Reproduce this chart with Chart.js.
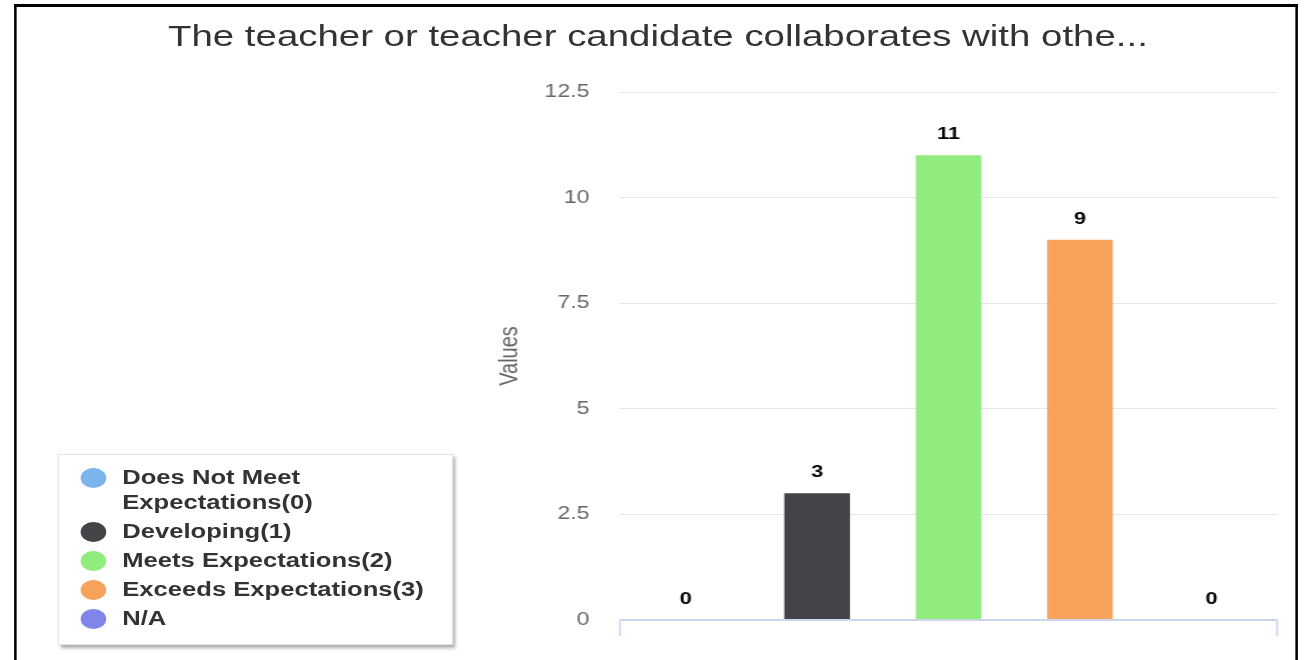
<!DOCTYPE html>
<html>
<head>
<meta charset="utf-8">
<script src="https://cdn.jsdelivr.net/npm/chart.js@4/dist/chart.umd.min.js"></script>
<style>
  html, body { margin:0; padding:0; background:#fff; overflow:hidden; }
  /* the source picture is stretched sideways, so lay out narrow and scale x */
  #wrap { position:relative; width:1021px; height:660px; transform:scaleX(1.28); transform-origin:0 0; }
  #frame { position:absolute; left:10.9px; top:4px; width:999px; height:700px;
           border:3px solid #000; border-left-width:2.35px; border-right-width:2.35px; border-bottom:none; }
  #chart { position:absolute; left:0; top:0; }
  #title { position:absolute; left:0; width:1028px; top:18px; text-align:center;
           font-family:"Liberation Sans", Arial, sans-serif; font-size:30px; line-height:36px; color:#333; white-space:nowrap; }
  #legend { position:absolute; left:44.5px; top:454px; width:309px; height:191px; box-sizing:border-box;
            padding-top:10px; background:#fff; border:1px solid #e4e4e4;
            box-shadow:2.5px 3px 3px rgba(0,0,0,0.35);
            font-family:"Liberation Sans", Arial, sans-serif; font-weight:bold;
            font-size:20px; color:#333; }
  .item { position:relative; padding-left:50px; width:250px; line-height:25px; margin-bottom:4px; }
  .dot { position:absolute; left:17.5px; top:2.5px; width:19.5px; height:20px; border-radius:50%; }
</style>
</head>
<body>
<div id="wrap">
  <div id="frame"></div>
  <div id="title"></div>
  <canvas id="chart" width="1021" height="660"></canvas>
  <div id="legend"></div>
</div>
<script>
// chart data
const categories = ['Does Not Meet Expectations(0)', 'Developing(1)', 'Meets Expectations(2)', 'Exceeds Expectations(3)', 'N/A'];
const values = [0, 3, 11, 9, 0];
const colors = ['#7cb5ec', '#434348', '#90ed7d', '#f7a35c', '#8085e9'];
const yTicks = [0, 2.5, 5, 7.5, 10, 12.5];
const chartTitle = 'The teacher or teacher candidate collaborates with othe...';
const axisTitle = 'Values';

document.getElementById('title').textContent = chartTitle;

// html legend, one row per category
const legendEl = document.getElementById('legend');
categories.forEach((c, i) => {
  const row = document.createElement('div');
  row.className = 'item';
  const dot = document.createElement('span');
  dot.className = 'dot';
  dot.style.background = colors[i];
  row.appendChild(dot);
  row.appendChild(document.createTextNode(c));
  legendEl.appendChild(row);
});

// value labels above bars
const barLabels = {
  id: 'barLabels',
  afterDatasetsDraw(chart) {
    const ctx = chart.ctx;
    const meta = chart.getDatasetMeta(0);
    ctx.save();
    ctx.font = 'bold 17px "Liberation Sans", Arial, sans-serif';
    ctx.fillStyle = '#000';
    ctx.textAlign = 'center';
    ctx.textBaseline = 'middle';
    meta.data.forEach((bar, i) => {
      ctx.fillText(String(values[i]), bar.x, bar.y - 21);
    });
    ctx.restore();
  }
};

// x axis line with end ticks
const xAxisLine = {
  id: 'xAxisLine',
  afterDraw(chart) {
    const { ctx, chartArea } = chart;
    ctx.save();
    ctx.strokeStyle = '#ccd6eb';
    ctx.lineWidth = 2;
    ctx.beginPath();
    ctx.moveTo(chartArea.left, chartArea.bottom);
    ctx.lineTo(chartArea.right, chartArea.bottom);
    ctx.stroke();
    ctx.lineWidth = 1.6;
    ctx.beginPath();
    ctx.moveTo(chartArea.left, chartArea.bottom);
    ctx.lineTo(chartArea.left, chartArea.bottom + 16);
    ctx.moveTo(chartArea.right, chartArea.bottom);
    ctx.lineTo(chartArea.right, chartArea.bottom + 16);
    ctx.stroke();
    ctx.restore();
  }
};

new Chart(document.getElementById('chart'), {
  type: 'bar',
  data: {
    labels: categories,
    datasets: [{ data: values, backgroundColor: colors, borderWidth: 0,
                 categoryPercentage: 1, barPercentage: 0.5 }]
  },
  options: {
    responsive: false,
    animation: false,
    layout: { padding: { left: 382, right: 23.3, top: 92, bottom: 40 } },
    plugins: {
      legend: { display: false },
      tooltip: { enabled: false },
      title: { display: false }
    },
    scales: {
      x: {
        ticks: { display: false },
        grid: { display: false, drawTicks: false },
        border: { display: false }
      },
      y: {
        min: 0, max: 12.5,
        afterBuildTicks(scale) { scale.ticks = yTicks.map(v => ({ value: v })); },
        afterFit(scale) { scale.width = 102.4; },
        ticks: { color: '#666', padding: 24,
                 font: { family: '"Liberation Sans", Arial, sans-serif', size: 18 } },
        grid: { color: '#e6e6e6', drawTicks: false },
        border: { display: false },
        title: { display: true, text: axisTitle, color: '#666',
                 font: { family: '"Liberation Sans", Arial, sans-serif', size: 20 } }
      }
    }
  },
  plugins: [barLabels, xAxisLine]
});
</script>
</body>
</html>
